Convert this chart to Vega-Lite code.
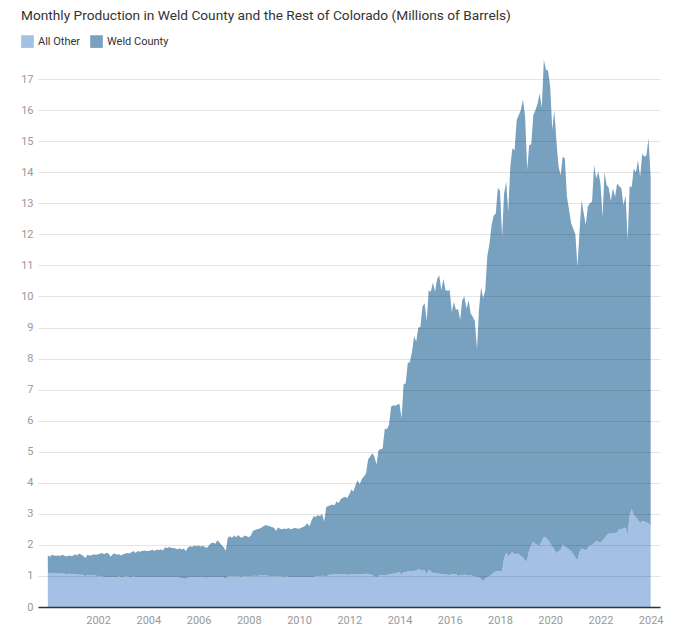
{
  "$schema": "https://vega.github.io/schema/vega-lite/v6.json",
  "autosize": {"type": "none"},
  "width": 622,
  "height": 559,
  "padding": {"left": 38, "top": 48, "right": 20, "bottom": 21},
  "background": "white",
  "config": {"view": {"stroke": null}, "font": "Roboto"},
  "title": {"text": "Monthly Production in Weld County and the Rest of Colorado (Millions of Barrels)", "anchor": "start", "frame": "group", "dx": -17, "offset": 12, "fontSize": 13.7, "font": "Roboto", "fontWeight": "normal", "color": "#333333"},
  "data": {"values": [
{"date":"2000-01","All Other":1.10,"Weld County":0.57},{"date":"2000-02","All Other":1.09,"Weld County":0.53},{"date":"2000-03","All Other":1.10,"Weld County":0.58},{"date":"2000-04","All Other":1.09,"Weld County":0.57},{"date":"2000-05","All Other":1.08,"Weld County":0.57},{"date":"2000-06","All Other":1.08,"Weld County":0.58},{"date":"2000-07","All Other":1.07,"Weld County":0.57},{"date":"2000-08","All Other":1.08,"Weld County":0.60},{"date":"2000-09","All Other":1.07,"Weld County":0.58},{"date":"2000-10","All Other":1.06,"Weld County":0.57},{"date":"2000-11","All Other":1.07,"Weld County":0.59},{"date":"2000-12","All Other":1.06,"Weld County":0.58},
{"date":"2001-01","All Other":1.06,"Weld County":0.59},{"date":"2001-02","All Other":1.05,"Weld County":0.65},{"date":"2001-03","All Other":1.05,"Weld County":0.61},{"date":"2001-04","All Other":1.04,"Weld County":0.68},{"date":"2001-05","All Other":1.04,"Weld County":0.64},{"date":"2001-06","All Other":1.03,"Weld County":0.61},{"date":"2001-07","All Other":0.99,"Weld County":0.59},{"date":"2001-08","All Other":1.03,"Weld County":0.65},{"date":"2001-09","All Other":1.02,"Weld County":0.64},{"date":"2001-10","All Other":1.01,"Weld County":0.66},{"date":"2001-11","All Other":1.02,"Weld County":0.68},{"date":"2001-12","All Other":1.01,"Weld County":0.67},
{"date":"2002-01","All Other":1.00,"Weld County":0.70},{"date":"2002-02","All Other":0.99,"Weld County":0.73},{"date":"2002-03","All Other":0.98,"Weld County":0.76},{"date":"2002-04","All Other":0.97,"Weld County":0.73},{"date":"2002-05","All Other":0.97,"Weld County":0.78},{"date":"2002-06","All Other":0.96,"Weld County":0.76},{"date":"2002-07","All Other":0.95,"Weld County":0.67},{"date":"2002-08","All Other":0.97,"Weld County":0.73},{"date":"2002-09","All Other":0.97,"Weld County":0.75},{"date":"2002-10","All Other":0.97,"Weld County":0.71},{"date":"2002-11","All Other":0.98,"Weld County":0.72},{"date":"2002-12","All Other":0.97,"Weld County":0.69},
{"date":"2003-01","All Other":0.97,"Weld County":0.73},{"date":"2003-02","All Other":0.98,"Weld County":0.74},{"date":"2003-03","All Other":0.98,"Weld County":0.76},{"date":"2003-04","All Other":0.97,"Weld County":0.75},{"date":"2003-05","All Other":0.97,"Weld County":0.79},{"date":"2003-06","All Other":0.98,"Weld County":0.82},{"date":"2003-07","All Other":0.97,"Weld County":0.77},{"date":"2003-08","All Other":0.97,"Weld County":0.83},{"date":"2003-09","All Other":0.97,"Weld County":0.81},{"date":"2003-10","All Other":0.96,"Weld County":0.84},{"date":"2003-11","All Other":0.97,"Weld County":0.85},{"date":"2003-12","All Other":0.97,"Weld County":0.83},
{"date":"2004-01","All Other":0.97,"Weld County":0.83},{"date":"2004-02","All Other":0.96,"Weld County":0.86},{"date":"2004-03","All Other":0.96,"Weld County":0.88},{"date":"2004-04","All Other":0.95,"Weld County":0.85},{"date":"2004-05","All Other":0.96,"Weld County":0.89},{"date":"2004-06","All Other":0.95,"Weld County":0.88},{"date":"2004-07","All Other":0.96,"Weld County":0.90},{"date":"2004-08","All Other":0.95,"Weld County":0.87},{"date":"2004-09","All Other":0.96,"Weld County":0.96},{"date":"2004-10","All Other":0.96,"Weld County":0.94},{"date":"2004-11","All Other":0.97,"Weld County":0.96},{"date":"2004-12","All Other":0.96,"Weld County":0.94},
{"date":"2005-01","All Other":0.96,"Weld County":0.94},{"date":"2005-02","All Other":0.95,"Weld County":0.93},{"date":"2005-03","All Other":0.95,"Weld County":0.91},{"date":"2005-04","All Other":0.94,"Weld County":0.95},{"date":"2005-05","All Other":0.93,"Weld County":0.92},{"date":"2005-06","All Other":0.92,"Weld County":0.96},{"date":"2005-07","All Other":0.90,"Weld County":0.90},{"date":"2005-08","All Other":0.95,"Weld County":0.97},{"date":"2005-09","All Other":0.96,"Weld County":1.00},{"date":"2005-10","All Other":0.96,"Weld County":0.98},{"date":"2005-11","All Other":0.97,"Weld County":1.01},{"date":"2005-12","All Other":0.96,"Weld County":1.00},
{"date":"2006-01","All Other":0.97,"Weld County":1.01},{"date":"2006-02","All Other":0.96,"Weld County":0.99},{"date":"2006-03","All Other":0.97,"Weld County":1.00},{"date":"2006-04","All Other":0.96,"Weld County":0.98},{"date":"2006-05","All Other":0.93,"Weld County":0.97},{"date":"2006-06","All Other":0.96,"Weld County":1.02},{"date":"2006-07","All Other":0.97,"Weld County":1.08},{"date":"2006-08","All Other":0.97,"Weld County":1.11},{"date":"2006-09","All Other":0.96,"Weld County":1.08},{"date":"2006-10","All Other":0.97,"Weld County":1.18},{"date":"2006-11","All Other":0.96,"Weld County":1.12},{"date":"2006-12","All Other":0.96,"Weld County":1.04},
{"date":"2007-01","All Other":0.95,"Weld County":0.97},{"date":"2007-02","All Other":0.90,"Weld County":0.90},{"date":"2007-03","All Other":0.98,"Weld County":1.24},{"date":"2007-04","All Other":0.99,"Weld County":1.29},{"date":"2007-05","All Other":0.98,"Weld County":1.24},{"date":"2007-06","All Other":0.99,"Weld County":1.31},{"date":"2007-07","All Other":0.98,"Weld County":1.27},{"date":"2007-08","All Other":0.99,"Weld County":1.33},{"date":"2007-09","All Other":0.97,"Weld County":1.28},{"date":"2007-10","All Other":0.98,"Weld County":1.26},{"date":"2007-11","All Other":0.99,"Weld County":1.31},{"date":"2007-12","All Other":0.98,"Weld County":1.30},
{"date":"2008-01","All Other":1.00,"Weld County":1.25},{"date":"2008-02","All Other":0.99,"Weld County":1.31},{"date":"2008-03","All Other":1.00,"Weld County":1.45},{"date":"2008-04","All Other":1.01,"Weld County":1.47},{"date":"2008-05","All Other":1.00,"Weld County":1.50},{"date":"2008-06","All Other":1.01,"Weld County":1.51},{"date":"2008-07","All Other":1.02,"Weld County":1.53},{"date":"2008-08","All Other":1.01,"Weld County":1.59},{"date":"2008-09","All Other":1.02,"Weld County":1.62},{"date":"2008-10","All Other":1.01,"Weld County":1.61},{"date":"2008-11","All Other":1.00,"Weld County":1.60},{"date":"2008-12","All Other":1.00,"Weld County":1.58},
{"date":"2009-01","All Other":0.99,"Weld County":1.56},{"date":"2009-02","All Other":0.98,"Weld County":1.47},{"date":"2009-03","All Other":0.99,"Weld County":1.57},{"date":"2009-04","All Other":0.98,"Weld County":1.54},{"date":"2009-05","All Other":0.98,"Weld County":1.52},{"date":"2009-06","All Other":0.97,"Weld County":1.56},{"date":"2009-07","All Other":0.98,"Weld County":1.53},{"date":"2009-08","All Other":0.97,"Weld County":1.57},{"date":"2009-09","All Other":0.97,"Weld County":1.53},{"date":"2009-10","All Other":0.96,"Weld County":1.56},{"date":"2009-11","All Other":0.97,"Weld County":1.58},{"date":"2009-12","All Other":0.97,"Weld County":1.56},
{"date":"2010-01","All Other":0.97,"Weld County":1.55},{"date":"2010-02","All Other":0.96,"Weld County":1.59},{"date":"2010-03","All Other":0.97,"Weld County":1.61},{"date":"2010-04","All Other":0.96,"Weld County":1.66},{"date":"2010-05","All Other":0.97,"Weld County":1.73},{"date":"2010-06","All Other":0.95,"Weld County":1.65},{"date":"2010-07","All Other":0.96,"Weld County":1.82},{"date":"2010-08","All Other":0.97,"Weld County":1.95},{"date":"2010-09","All Other":0.98,"Weld County":1.92},{"date":"2010-10","All Other":0.99,"Weld County":1.97},{"date":"2010-11","All Other":1.00,"Weld County":1.92},{"date":"2010-12","All Other":1.01,"Weld County":1.99},
{"date":"2011-01","All Other":1.00,"Weld County":1.75},{"date":"2011-02","All Other":0.98,"Weld County":2.24},{"date":"2011-03","All Other":1.02,"Weld County":2.23},{"date":"2011-04","All Other":1.05,"Weld County":2.23},{"date":"2011-05","All Other":1.04,"Weld County":2.26},{"date":"2011-06","All Other":1.05,"Weld County":2.23},{"date":"2011-07","All Other":1.06,"Weld County":2.34},{"date":"2011-08","All Other":1.04,"Weld County":2.31},{"date":"2011-09","All Other":1.05,"Weld County":2.43},{"date":"2011-10","All Other":1.06,"Weld County":2.46},{"date":"2011-11","All Other":1.05,"Weld County":2.50},{"date":"2011-12","All Other":1.04,"Weld County":2.46},
{"date":"2012-01","All Other":1.04,"Weld County":2.58},{"date":"2012-02","All Other":1.05,"Weld County":2.73},{"date":"2012-03","All Other":1.06,"Weld County":2.66},{"date":"2012-04","All Other":1.05,"Weld County":2.87},{"date":"2012-05","All Other":1.04,"Weld County":3.04},{"date":"2012-06","All Other":1.06,"Weld County":2.89},{"date":"2012-07","All Other":1.05,"Weld County":3.07},{"date":"2012-08","All Other":1.06,"Weld County":3.14},{"date":"2012-09","All Other":1.07,"Weld County":3.23},{"date":"2012-10","All Other":1.06,"Weld County":3.69},{"date":"2012-11","All Other":1.05,"Weld County":3.80},{"date":"2012-12","All Other":1.03,"Weld County":3.92},
{"date":"2013-01","All Other":0.98,"Weld County":3.87},{"date":"2013-02","All Other":0.96,"Weld County":3.62},{"date":"2013-03","All Other":1.00,"Weld County":4.05},{"date":"2013-04","All Other":1.02,"Weld County":4.06},{"date":"2013-05","All Other":1.03,"Weld County":4.07},{"date":"2013-06","All Other":1.02,"Weld County":4.73},{"date":"2013-07","All Other":1.04,"Weld County":4.68},{"date":"2013-08","All Other":1.05,"Weld County":4.81},{"date":"2013-09","All Other":1.06,"Weld County":5.39},{"date":"2013-10","All Other":1.07,"Weld County":5.43},{"date":"2013-11","All Other":1.08,"Weld County":5.40},{"date":"2013-12","All Other":1.10,"Weld County":5.42},
{"date":"2014-01","All Other":1.12,"Weld County":5.42},{"date":"2014-02","All Other":1.03,"Weld County":5.04},{"date":"2014-03","All Other":1.12,"Weld County":6.05},{"date":"2014-04","All Other":1.12,"Weld County":6.08},{"date":"2014-05","All Other":1.14,"Weld County":6.71},{"date":"2014-06","All Other":1.15,"Weld County":6.75},{"date":"2014-07","All Other":1.16,"Weld County":7.04},{"date":"2014-08","All Other":1.15,"Weld County":7.57},{"date":"2014-09","All Other":1.18,"Weld County":7.37},{"date":"2014-10","All Other":1.21,"Weld County":7.79},{"date":"2014-11","All Other":1.20,"Weld County":7.82},{"date":"2014-12","All Other":1.18,"Weld County":8.50},
{"date":"2015-01","All Other":1.18,"Weld County":8.60},{"date":"2015-02","All Other":1.05,"Weld County":8.15},{"date":"2015-03","All Other":1.20,"Weld County":9.00},{"date":"2015-04","All Other":1.15,"Weld County":9.00},{"date":"2015-05","All Other":1.09,"Weld County":9.36},{"date":"2015-06","All Other":1.10,"Weld County":9.05},{"date":"2015-07","All Other":1.08,"Weld County":9.47},{"date":"2015-08","All Other":1.07,"Weld County":9.61},{"date":"2015-09","All Other":1.06,"Weld County":9.14},{"date":"2015-10","All Other":1.06,"Weld County":9.51},{"date":"2015-11","All Other":1.05,"Weld County":9.15},{"date":"2015-12","All Other":1.04,"Weld County":9.14},
{"date":"2016-01","All Other":1.03,"Weld County":9.17},{"date":"2016-02","All Other":1.06,"Weld County":8.44},{"date":"2016-03","All Other":1.05,"Weld County":8.78},{"date":"2016-04","All Other":1.06,"Weld County":8.50},{"date":"2016-05","All Other":1.00,"Weld County":8.60},{"date":"2016-06","All Other":1.02,"Weld County":8.23},{"date":"2016-07","All Other":1.03,"Weld County":8.85},{"date":"2016-08","All Other":1.04,"Weld County":8.96},{"date":"2016-09","All Other":1.03,"Weld County":8.57},{"date":"2016-10","All Other":1.01,"Weld County":8.87},{"date":"2016-11","All Other":1.02,"Weld County":8.43},{"date":"2016-12","All Other":1.00,"Weld County":8.35},
{"date":"2017-01","All Other":0.99,"Weld County":8.21},{"date":"2017-02","All Other":0.97,"Weld County":7.33},{"date":"2017-03","All Other":0.97,"Weld County":8.59},{"date":"2017-04","All Other":0.90,"Weld County":9.40},{"date":"2017-05","All Other":0.82,"Weld County":9.12},{"date":"2017-06","All Other":0.92,"Weld County":9.28},{"date":"2017-07","All Other":0.96,"Weld County":10.34},{"date":"2017-08","All Other":1.00,"Weld County":10.70},{"date":"2017-09","All Other":1.05,"Weld County":11.25},{"date":"2017-10","All Other":1.10,"Weld County":11.50},{"date":"2017-11","All Other":1.15,"Weld County":11.52},{"date":"2017-12","All Other":1.15,"Weld County":12.35},
{"date":"2018-01","All Other":1.15,"Weld County":12.25},{"date":"2018-02","All Other":1.15,"Weld County":10.77},{"date":"2018-03","All Other":1.57,"Weld County":11.73},{"date":"2018-04","All Other":1.75,"Weld County":11.95},{"date":"2018-05","All Other":1.63,"Weld County":11.10},{"date":"2018-06","All Other":1.70,"Weld County":12.50},{"date":"2018-07","All Other":1.78,"Weld County":12.99},{"date":"2018-08","All Other":1.68,"Weld County":13.02},{"date":"2018-09","All Other":1.72,"Weld County":13.96},{"date":"2018-10","All Other":1.70,"Weld County":14.14},{"date":"2018-11","All Other":1.64,"Weld County":14.36},{"date":"2018-12","All Other":1.60,"Weld County":14.73},
{"date":"2019-01","All Other":1.48,"Weld County":14.32},{"date":"2019-02","All Other":1.50,"Weld County":12.57},{"date":"2019-03","All Other":1.83,"Weld County":13.04},{"date":"2019-04","All Other":2.00,"Weld County":12.90},{"date":"2019-05","All Other":2.10,"Weld County":13.74},{"date":"2019-06","All Other":2.03,"Weld County":13.97},{"date":"2019-07","All Other":2.00,"Weld County":14.20},{"date":"2019-08","All Other":2.00,"Weld County":14.54},{"date":"2019-09","All Other":2.10,"Weld County":13.97},{"date":"2019-10","All Other":2.26,"Weld County":15.35},{"date":"2019-11","All Other":2.24,"Weld County":15.06},{"date":"2019-12","All Other":2.15,"Weld County":15.12},
{"date":"2020-01","All Other":2.05,"Weld County":14.70},{"date":"2020-02","All Other":1.95,"Weld County":13.41},{"date":"2020-03","All Other":1.85,"Weld County":14.15},{"date":"2020-04","All Other":1.72,"Weld County":13.28},{"date":"2020-05","All Other":1.80,"Weld County":12.40},{"date":"2020-06","All Other":1.83,"Weld County":12.07},{"date":"2020-07","All Other":2.00,"Weld County":12.50},{"date":"2020-08","All Other":1.95,"Weld County":12.50},{"date":"2020-09","All Other":1.90,"Weld County":11.30},{"date":"2020-10","All Other":1.85,"Weld County":10.95},{"date":"2020-11","All Other":1.80,"Weld County":10.55},{"date":"2020-12","All Other":1.70,"Weld County":10.49},
{"date":"2021-01","All Other":1.60,"Weld County":10.40},{"date":"2021-02","All Other":1.50,"Weld County":9.46},{"date":"2021-03","All Other":1.77,"Weld County":10.26},{"date":"2021-04","All Other":1.88,"Weld County":11.22},{"date":"2021-05","All Other":1.85,"Weld County":10.85},{"date":"2021-06","All Other":1.83,"Weld County":10.47},{"date":"2021-07","All Other":1.90,"Weld County":11.00},{"date":"2021-08","All Other":2.00,"Weld County":11.00},{"date":"2021-09","All Other":2.00,"Weld County":11.05},{"date":"2021-10","All Other":2.05,"Weld County":12.18},{"date":"2021-11","All Other":2.13,"Weld County":11.67},{"date":"2021-12","All Other":2.10,"Weld County":11.92},
{"date":"2022-01","All Other":2.07,"Weld County":11.57},{"date":"2022-02","All Other":2.15,"Weld County":10.42},{"date":"2022-03","All Other":2.20,"Weld County":11.80},{"date":"2022-04","All Other":2.30,"Weld County":11.29},{"date":"2022-05","All Other":2.37,"Weld County":11.13},{"date":"2022-06","All Other":2.36,"Weld County":10.71},{"date":"2022-07","All Other":2.39,"Weld County":11.09},{"date":"2022-08","All Other":2.37,"Weld County":10.83},{"date":"2022-09","All Other":2.40,"Weld County":11.24},{"date":"2022-10","All Other":2.50,"Weld County":11.05},{"date":"2022-11","All Other":2.50,"Weld County":10.98},{"date":"2022-12","All Other":2.53,"Weld County":10.41},
{"date":"2023-01","All Other":2.56,"Weld County":10.69},{"date":"2023-02","All Other":2.31,"Weld County":9.51},{"date":"2023-03","All Other":2.96,"Weld County":10.57},{"date":"2023-04","All Other":3.14,"Weld County":10.39},{"date":"2023-05","All Other":2.96,"Weld County":11.16},{"date":"2023-06","All Other":2.89,"Weld County":11.11},{"date":"2023-07","All Other":2.80,"Weld County":11.59},{"date":"2023-08","All Other":2.70,"Weld County":11.15},{"date":"2023-09","All Other":2.78,"Weld County":11.82},{"date":"2023-10","All Other":2.75,"Weld County":11.75},{"date":"2023-11","All Other":2.72,"Weld County":11.83},{"date":"2023-12","All Other":2.70,"Weld County":12.39},
{"date":"2024-01","All Other":2.60,"Weld County":11.25}
  ]},
  "transform": [{"fold": ["All Other", "Weld County"], "as": ["series", "value"]}],
  "mark": {"type": "area", "interpolate": "linear"},
  "encoding": {
    "x": {"field": "date", "type": "temporal",
      "scale": {"type": "utc", "domain": [{"year": 1999, "month": 8, "date": 11, "utc": true}, {"year": 2024, "month": 5, "date": 16, "utc": true}]},
      "axis": {"title": null, "values": [{"year": 2002, "utc": true}, {"year": 2004, "utc": true}, {"year": 2006, "utc": true}, {"year": 2008, "utc": true}, {"year": 2010, "utc": true}, {"year": 2012, "utc": true}, {"year": 2014, "utc": true}, {"year": 2016, "utc": true}, {"year": 2018, "utc": true}, {"year": 2020, "utc": true}, {"year": 2022, "utc": true}, {"year": 2024, "utc": true}],
        "format": "%Y", "grid": false, "ticks": false, "domain": true, "domainColor": "#333333", "domainWidth": 1.5, "labelColor": "#999999", "labelFontSize": 11, "labelFont": "Roboto", "labelPadding": 7, "labelFlush": false, "labelOverlap": false, "zindex": 1}},
    "y": {"field": "value", "type": "quantitative", "stack": "zero",
      "scale": {"domain": [0, 18], "nice": false},
      "axis": {"title": null, "values": [0,1,2,3,4,5,6,7,8,9,10,11,12,13,14,15,16,17], "domain": false, "ticks": false, "gridColor": "#000000", "gridOpacity": 0.1, "gridWidth": 1, "labelColor": "#999999", "labelFontSize": 11, "labelFont": "Roboto", "labelPadding": 5, "zindex": 1}},
    "color": {"field": "series", "type": "nominal",
      "scale": {"domain": ["All Other", "Weld County"], "range": ["#a4c0e4", "#77a1bf"]},
      "legend": {"title": null, "orient": "none", "direction": "horizontal", "legendX": -17, "legendY": -13, "symbolType": "square", "symbolSize": 160, "symbolStrokeWidth": 0, "symbolOpacity": 1, "labelFontSize": 11, "labelFont": "Roboto", "labelColor": "#333333", "labelOffset": 4, "columnPadding": 9}},
    "order": {"field": "series", "sort": "ascending"}
  }
}
